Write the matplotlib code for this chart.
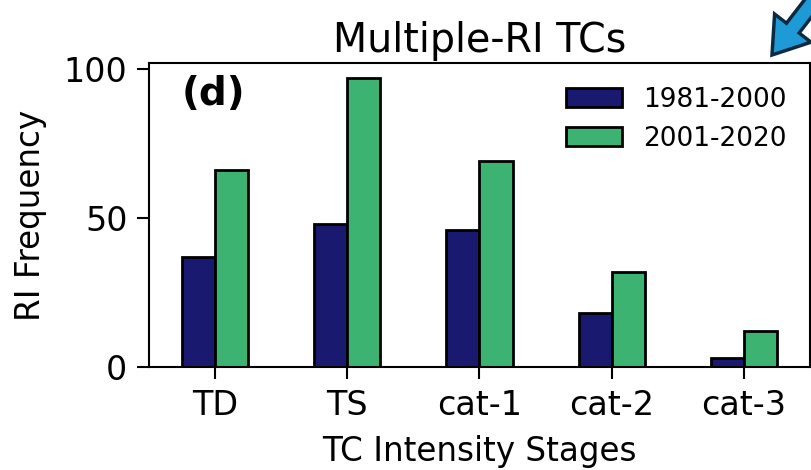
import numpy as np
import matplotlib
matplotlib.use('Agg')
import matplotlib.pyplot as plt
from matplotlib.patches import FancyArrow

stages = ['TD', 'TS', 'cat-1', 'cat-2', 'cat-3']
ri_1981_2000 = [37, 48, 46, 18, 3]
ri_2001_2020 = [66, 97, 69, 32, 12]
periods = ['1981-2000', '2001-2020']
colors = ['#191970', '#3CB371']

fig = plt.figure(figsize=(8.12, 4.70), dpi=100)
ax = fig.add_axes([0.1835, 0.219, 0.814, 0.647])

x = np.arange(len(stages))
w = 0.25
ax.bar(x - w/2, ri_1981_2000, width=w, color=colors[0], edgecolor='black', linewidth=2, label=periods[0])
ax.bar(x + w/2, ri_2001_2020, width=w, color=colors[1], edgecolor='black', linewidth=2, label=periods[1])

ax.set_xlim(-0.5, 4.5)
ax.set_ylim(0, 102)
ax.set_yticks([0, 50, 100])
ax.set_xticks(x)
ax.set_xticklabels(stages)
ax.tick_params(labelsize=24, length=8.5, width=1.5, pad=7)
for s in ax.spines.values():
    s.set_linewidth(1.5)

ax.set_xlabel('TC Intensity Stages', fontsize=23.5, labelpad=10)
ax.set_ylabel('RI Frequency', fontsize=23.5, labelpad=12)
ax.set_title('Multiple-RI TCs', fontsize=28.5, pad=8)
ax.text(0.05, 0.96, '(d)', transform=ax.transAxes, fontsize=28, fontweight='bold', va='top', ha='left')
ax.legend(loc='upper right', frameon=False, fontsize=19, handlelength=2.1)

# blue pointer arrow in the corner (clipped at the edge)
arr = FancyArrow(8.30, 4.90, -0.58, -0.75, width=0.16, head_width=0.46, head_length=0.34,
                 length_includes_head=True, transform=fig.dpi_scale_trans, facecolor='#1E9BD7',
                 edgecolor='#0b2a40', linewidth=2.5, clip_on=False)
fig.add_artist(arr)

fig.savefig('out.png', dpi=100)
